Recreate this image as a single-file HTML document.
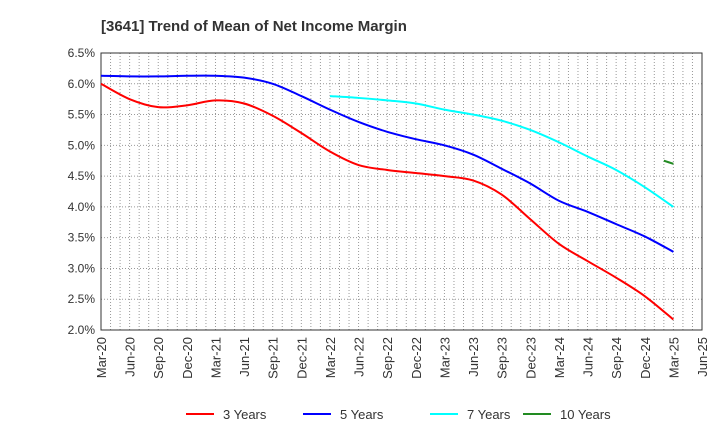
<!DOCTYPE html>
<html><head><meta charset="utf-8"><style>
body{margin:0;background:#fff;font-family:"Liberation Sans",sans-serif}
svg text{font-family:"Liberation Sans",sans-serif}
</style></head><body>
<svg id="c" width="720" height="440">
<text x="101" y="31" font-size="15" font-weight="bold" fill="#333">[3641]  Trend of Mean of Net Income Margin</text>
<g id="grid"></g><g id="axes"></g><g id="series"></g><g id="legend"></g>
</svg>
<script>
const xLabels=["Mar-20","Jun-20","Sep-20","Dec-20","Mar-21","Jun-21","Sep-21","Dec-21","Mar-22","Jun-22","Sep-22","Dec-22","Mar-23","Jun-23","Sep-23","Dec-23","Mar-24","Jun-24","Sep-24","Dec-24","Mar-25","Jun-25"];
const yTicks=[2.0,2.5,3.0,3.5,4.0,4.5,5.0,5.5,6.0,6.5];
const s3=[6.0,5.75,5.62,5.65,5.73,5.68,5.48,5.2,4.9,4.68,4.6,4.55,4.5,4.43,4.2,3.8,3.4,3.12,2.85,2.55,2.17];
const s5=[6.13,6.12,6.12,6.13,6.13,6.1,6.0,5.8,5.58,5.38,5.22,5.1,5.0,4.85,4.62,4.38,4.1,3.92,3.72,3.52,3.27];
const s7=[5.8,5.77,5.73,5.68,5.58,5.5,5.4,5.25,5.05,4.82,4.6,4.32,4.0];
const s7Start=8;
const s10=[4.75,4.7];
const s10StartMonth=59;
const NS="http://www.w3.org/2000/svg";
const L=101,R=702,T=53,B=330;
const xq=i=>L+(R-L)*i/21;
const xm=m=>L+(R-L)*m/63;
const y=v=>B-(v-2)*(B-T)/4.5;
function mk(t,a,p){const e=document.createElementNS(NS,t);for(const k in a)e.setAttribute(k,a[k]);p.appendChild(e);return e;}
const grid=document.getElementById('grid'),axes=document.getElementById('axes'),ser=document.getElementById('series'),leg=document.getElementById('legend');
for(let m=1;m<63;m++){const l=mk('line',{x1:xm(m),x2:xm(m),y1:T,y2:B,stroke:'#999','stroke-dasharray':'1,2'},grid);

}
yTicks.forEach(v=>{const l=mk('line',{x1:L,x2:R,y1:y(v),y2:y(v),stroke:'#999','stroke-dasharray':'1,2'},grid);


const t=mk('text',{x:L-6,y:y(v)+4,'text-anchor':'end','font-size':12,fill:'#333'},axes);t.textContent=v.toFixed(1)+'%';

});
const fr=mk('rect',{x:L,y:T,width:R-L,height:B-T,fill:'none',stroke:'#333','stroke-width':1},axes);


xLabels.forEach((s,i)=>{const t=mk('text',{transform:`translate(${xq(i)+5},337) rotate(-90)`,'text-anchor':'end','font-size':13,fill:'#333'},axes);t.textContent=s;

});
function path(pts){let d=`M${pts[0][0]},${pts[0][1]}`;for(let i=0;i<pts.length-1;i++){const p0=pts[Math.max(0,i-1)],p1=pts[i],p2=pts[i+1],p3=pts[Math.min(pts.length-1,i+2)];
const c1=[p1[0]+(p2[0]-p0[0])/6,p1[1]+(p2[1]-p0[1])/6],c2=[p2[0]-(p3[0]-p1[0])/6,p2[1]-(p3[1]-p1[1])/6];d+=` C${c1} ${c2} ${p2}`;}return d;}
function line(pts,col,name){const p=mk('path',{d:path(pts),fill:'none',stroke:col,'stroke-width':2},ser);

}
line(s3.map((v,i)=>[xq(i),y(v)]),'#f00','series-3-years');
line(s5.map((v,i)=>[xq(i),y(v)]),'#00f','series-5-years');
line(s7.map((v,i)=>[xq(i+s7Start),y(v)]),'#0ff','series-7-years');
line(s10.map((v,i)=>[xm(i+s10StartMonth),y(v)]),'#228b22','series-10-years');
[["3 Years","#f00",186],["5 Years","#00f",303],["7 Years","#0ff",430],["10 Years","#228b22",523]].forEach(([n,c,x])=>{
const g=mk('g',{},leg);


mk('line',{x1:x,x2:x+28,y1:414,y2:414,stroke:c,'stroke-width':2},g);
const t=mk('text',{x:x+37,y:419,'font-size':13,fill:'#333'},g);t.textContent=n;});
</script>
</body></html>
